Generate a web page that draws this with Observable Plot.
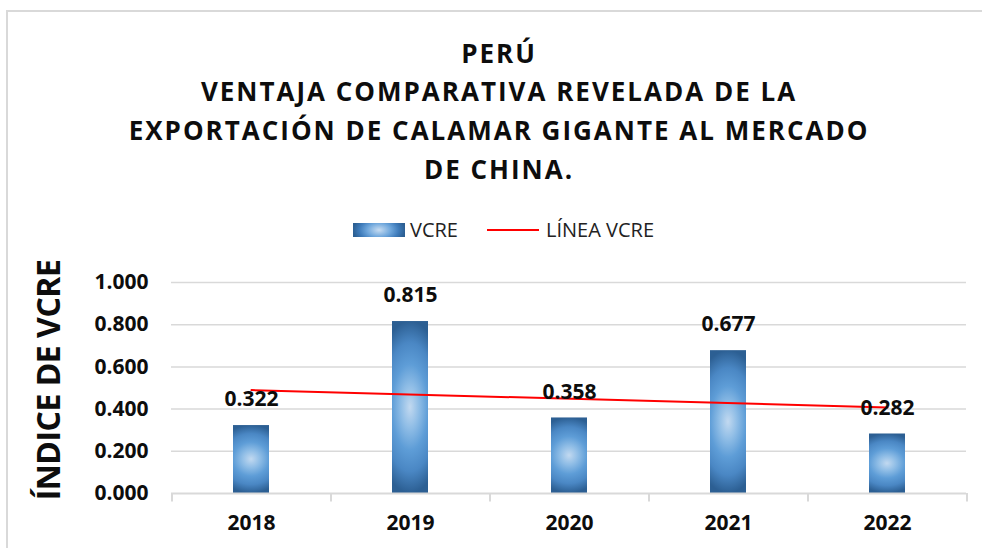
<!DOCTYPE html>
<html>
<head>
<meta charset="utf-8">
<script src="https://cdn.jsdelivr.net/npm/d3@7"></script>
<script src="https://cdn.jsdelivr.net/npm/@observablehq/plot@0.6"></script>
<style>
  html, body { margin: 0; padding: 0; background: #fff; }
  #wrap { position: relative; width: 982px; height: 548px; overflow: hidden; background: #fff; font-family: "Open Sans", sans-serif; }
  #frame { position: absolute; left: 6px; top: 10px; width: 1000px; height: 600px; border-left: 2px solid #d9d9d9; border-top: 2px solid #d9d9d9; }
  #title { position: absolute; left: 99px; width: 800px; top: 33.5px; text-align: center; font-weight: bold; font-size: 26px; letter-spacing: 2px; line-height: 38.7px; color: #0d0d0d; }
  .leg { position: absolute; font-size: 20px; line-height: 20px; color: #222; white-space: nowrap; }
  #sw { position: absolute; left: 353px; top: 223px; width: 52px; height: 14px;
        background: radial-gradient(ellipse 50% 110% at 50% 50%, #c8ddf2 0%, #6fa7dc 45%, #3f7cbb 75%, #2c5f93 100%); }
  #ln { position: absolute; left: 487px; top: 229px; width: 52px; height: 2px; background: #ff0000; }
  #chart { position: absolute; left: 0; top: 240px; }
  #ylab { position: absolute; left: 0; top: 0; }
</style>
</head>
<body>
<div id="wrap">
  <div id="frame"></div>
  <div id="title"></div>
  <div id="sw"></div>
  <div class="leg" id="l1" style="left:410px; top:219.5px;"></div>
  <div id="ln"></div>
  <div class="leg" id="l2" style="left:546px; top:219.5px;"></div>
  <svg id="ylab" width="120" height="548"></svg>
  <div id="chart"></div>
</div>
<script>
// ---- data ----
const titleLines = ["PERÚ", "VENTAJA COMPARATIVA REVELADA DE LA", "EXPORTACIÓN DE CALAMAR GIGANTE AL MERCADO", "DE CHINA."];
const years = ["2018", "2019", "2020", "2021", "2022"];
const vcre = [0.322, 0.815, 0.358, 0.677, 0.282];
const trendYears = ["2018", "2022"];
const trendValues = [0.490, 0.408];
const yTicks = [0, 0.2, 0.4, 0.6, 0.8, 1.0];
const seriesName = "VCRE";
const lineName = "LÍNEA VCRE";
const yTitle = "ÍNDICE DE VCRE";

// ---- text ----
document.getElementById("title").innerHTML = titleLines.join("<br>");
document.getElementById("l1").textContent = seriesName;
document.getElementById("l2").textContent = lineName;
const ylab = d3.select("#ylab");
ylab.append("text")
  .attr("transform", "translate(60,380) rotate(-90)")
  .attr("text-anchor", "middle")
  .attr("font-family", "'Open Sans', sans-serif")
  .attr("font-weight", "bold")
  .attr("font-size", 32)
  .attr("letter-spacing", "-0.5px")
  .attr("fill", "#0d0d0d")
  .text(yTitle);

const fmt = d3.format(".3f");
const half = (982 - 171 - 16) / years.length / 2;

const chart = Plot.plot({
  width: 982,
  height: 308,
  marginTop: 42,
  marginBottom: 55,
  marginLeft: 171,
  marginRight: 16,
  style: { fontFamily: "'Open Sans', sans-serif", fontSize: "21px", fontWeight: "bold", color: "#0d0d0d", background: "transparent", overflow: "visible" },
  x: { domain: years, paddingInner: 0.7736, paddingOuter: 0.3868, label: null },
  y: { domain: [0, 1], label: null },
  marks: [
    Plot.ruleY(yTicks.filter(t => t > 0), { stroke: "#d9d9d9", strokeWidth: 1.5 }),
    Plot.barY(years, { x: d => d, y: (d, i) => vcre[i], fill: "url(#barGrad)" }),
    Plot.ruleY([0], { stroke: "#d9d9d9", strokeWidth: 2 }),
    Plot.ruleX(years, { x: d => d, dx: -half, y1: 0, y2: -0.04, stroke: "#d9d9d9", strokeWidth: 2 }),
    Plot.ruleX([years[years.length - 1]], { x: d => d, dx: half, y1: 0, y2: -0.04, stroke: "#d9d9d9", strokeWidth: 2 }),
    Plot.line(trendYears, { x: d => d, y: (d, i) => trendValues[i], stroke: "#ff0000", strokeWidth: 2 }),
    Plot.text(years, { x: d => d, y: (d, i) => vcre[i], text: (d, i) => fmt(vcre[i]), dy: -26, fontSize: 21, fontWeight: "bold", fill: "#0d0d0d" }),
    Plot.axisY({ ticks: yTicks, tickFormat: fmt, tickSize: 0, tickPadding: 23, fontSize: 21, fontWeight: "bold" }),
    Plot.axisX({ tickSize: 0, tickPadding: 22, fontSize: 21, fontWeight: "bold" })
  ]
});

// gradient defs
const ns = "http://www.w3.org/2000/svg";
const defs = document.createElementNS(ns, "defs");
const rg = document.createElementNS(ns, "radialGradient");
rg.setAttribute("id", "barGrad");
rg.setAttribute("cx", "0.5");
rg.setAttribute("cy", "0.5");
rg.setAttribute("r", "0.5");
rg.setAttribute("gradientTransform", "translate(0.5,0.5) scale(2,1) translate(-0.5,-0.5)");
[["0", "#c2d9f0"], ["0.25", "#8fbde6"], ["0.5", "#5e9dd7"], ["0.75", "#4a87c4"], ["1", "#2c5f93"]].forEach(([o, c]) => {
  const s = document.createElementNS(ns, "stop");
  s.setAttribute("offset", o);
  s.setAttribute("stop-color", c);
  rg.appendChild(s);
});
defs.appendChild(rg);
chart.insertBefore(defs, chart.firstChild);

document.getElementById("chart").appendChild(chart);
</script>
</body>
</html>
